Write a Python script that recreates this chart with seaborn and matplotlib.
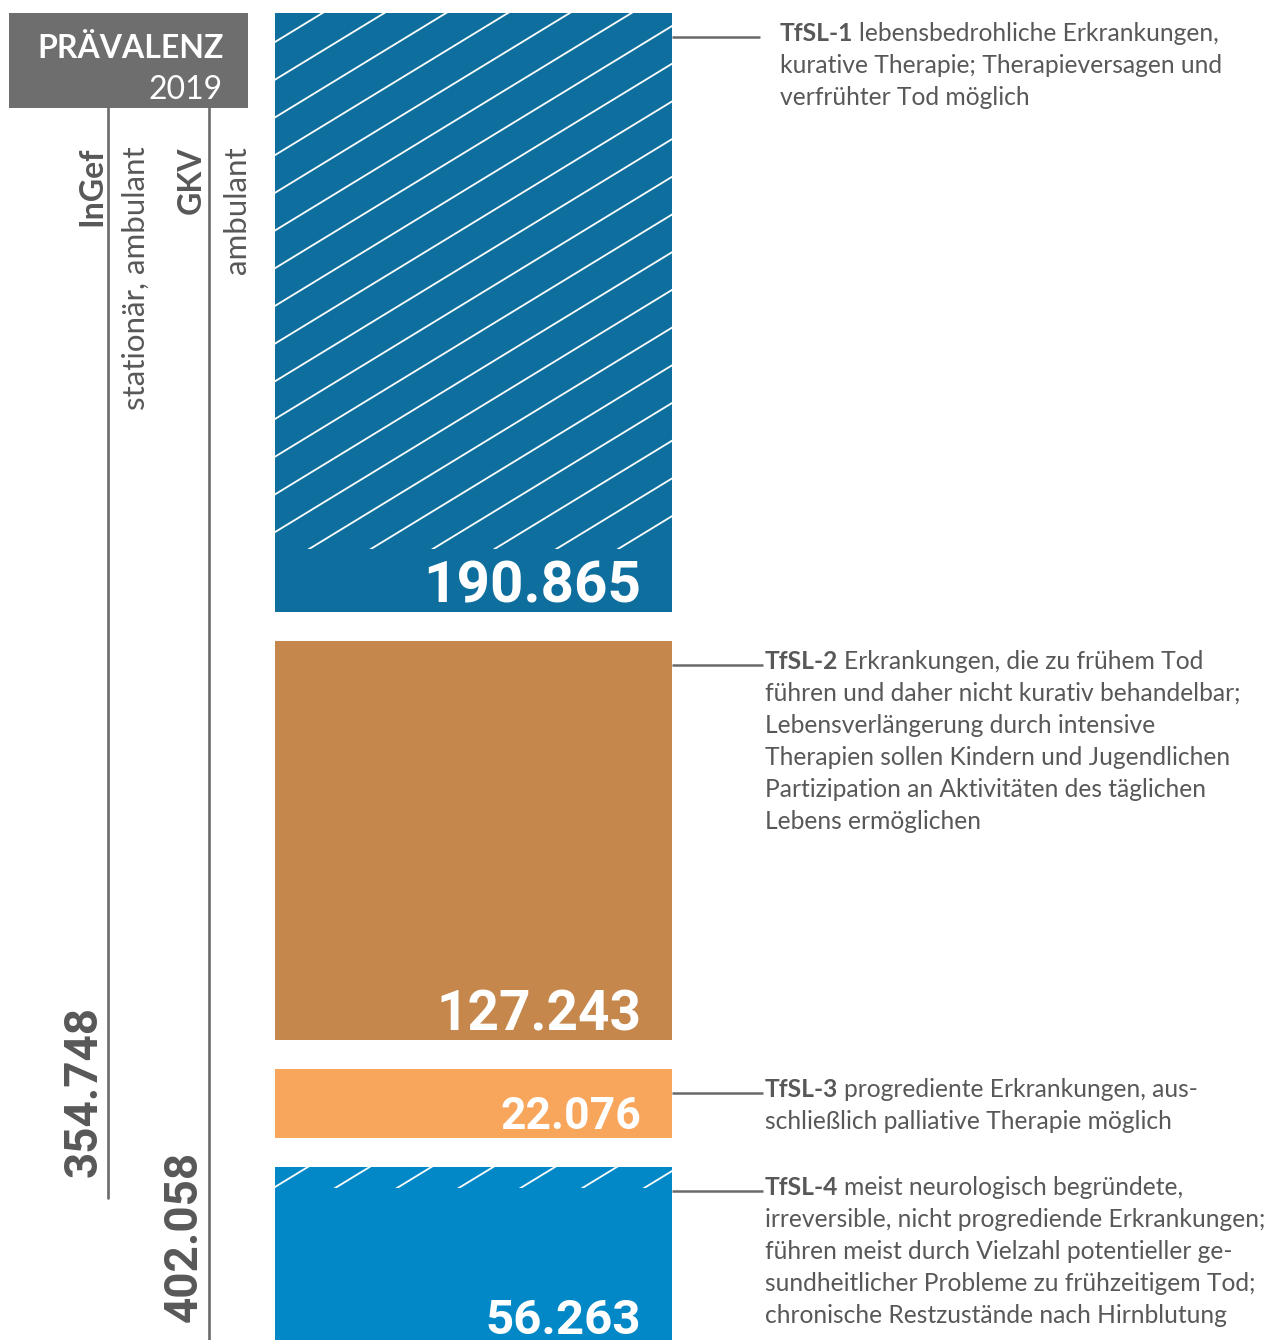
import matplotlib
matplotlib.use("Agg")
import matplotlib.pyplot as plt
import matplotlib.transforms as mtransforms
from matplotlib.patches import Rectangle
from matplotlib.lines import Line2D
import seaborn as sns

# ---------------- data ----------------
codes = ["TfSL-1", "TfSL-2", "TfSL-3", "TfSL-4"]
values = [190865, 127243, 22076, 56263]
value_labels = ["190.865", "127.243", "22.076", "56.263"]
bar_colors = ["#0E6F9E", "#C5874B", "#F9A65D", "#0288C6"]
hatch_extent = [170900, 0, 0, 6700]   # hatched part at the top of each bar
descriptions = [
    ["lebensbedrohliche Erkrankungen,",
     "kurative Therapie; Therapieversagen und",
     "verfrühter Tod möglich"],
    ["Erkrankungen, die zu frühem Tod",
     "führen und daher nicht kurativ behandelbar;",
     "Lebensverlängerung durch intensive",
     "Therapien sollen Kindern und Jugendlichen",
     "Partizipation an Aktivitäten des täglichen",
     "Lebens ermöglichen"],
    ["progrediente Erkrankungen, aus-",
     "schließlich palliative Therapie möglich"],
    ["meist neurologisch begründete,",
     "irreversible, nicht progrediende Erkrankungen;",
     "führen meist durch Vielzahl potentieller ge-",
     "sundheitlicher Probleme zu frühzeitigem Tod;",
     "chronische Restzustände nach Hirnblutung"],
]
header_title = "PRÄVALENZ"
header_year = "2019"
sources = ["InGef", "GKV"]
source_sub = ["stationär, ambulant", "ambulant"]
totals = ["354.748", "402.058"]

# ---------------- layout ----------------
DPI = 100
W, H = 1270, 1340
GAP = 9250
label_sizes = [42, 39.5, 32, 35.5]
hatch_phase = [42.0, 0, 0, 1187.0]    # pixel row where a hatch line meets the bar's left edge
TEXT_GRAY = "#585858"
LINE_GRAY = "#6A6A6A"
DESC_SIZE = 17.7

sns.set_theme(style="white")
plt.rcParams["font.family"] = ["Lato", "DejaVu Sans"]

fig = plt.figure(figsize=(W / DPI, H / DPI), dpi=DPI)
fig.patch.set_facecolor("white")
ax = fig.add_axes([275 / W, 0, (672 - 275) / W, 1327 / H])

starts = []
s = 0
for v in values:
    starts.append(s)
    s += v + GAP

for i, (v, b, c) in enumerate(zip(values, starts, bar_colors)):
    sns.barplot(x=[0], y=[v], bottom=b, color=c, width=1, linewidth=0,
                errorbar=None, ax=ax, saturation=1)

ax.set_xlim(-0.5, 0.5)
ax.set_ylim(423100, 0)
ax.axis("off")

# pixel transform (top-left origin)
px = mtransforms.Affine2D().scale(1 / DPI, -1 / DPI).translate(0, H / DPI) + fig.dpi_scale_trans
xpx_ydata = mtransforms.blended_transform_factory(px, ax.transData)


def down(dy):
    return mtransforms.ScaledTranslation(0, -dy / DPI, fig.dpi_scale_trans)


# hatching (white diagonal lines clipped to the hatched part of the bar)
slope, pitch = 0.61, 37.7
for b, ext, y0 in zip(starts, hatch_extent, hatch_phase):
    if ext <= 0:
        continue
    clip = Rectangle((-0.5, b), 1, ext, transform=ax.transData)
    for k in range(-40, 45):
        xa, xb = 260, 690
        ya = y0 + k * pitch - slope * (xa - 275)
        yb = y0 + k * pitch - slope * (xb - 275)
        ln = Line2D([xa, xb], [ya, yb], transform=px, color="white", lw=1.3,
                    solid_capstyle="butt")
        ax.add_line(ln)
        ln.set_clip_path(clip.get_path(), clip.get_transform())

# value labels
for v, b, lab, fs in zip(values, starts, value_labels, label_sizes):
    ax.annotate(lab, xy=(0.5, b + v), xycoords="data", xytext=(-31, 9),
                textcoords="offset pixels", ha="right", va="baseline",
                color="white", fontsize=fs, fontweight="bold", family="Roboto",
                annotation_clip=False)

# descriptions with connector lines
renderer = fig.canvas.get_renderer()
for i, (code, b, lines) in enumerate(zip(codes, starts, descriptions)):
    tx = 780 if i == 0 else 765
    lx = 760 if i == 0 else 763
    ax.plot([672, lx], [b, b], transform=xpx_ydata + down(24), color=LINE_GRAY,
            lw=1.8, clip_on=False, solid_capstyle="butt")
    t = ax.text(tx, b, code, transform=xpx_ydata + down(28), ha="left", va="baseline",
                fontsize=DESC_SIZE, fontweight="bold", color=TEXT_GRAY, family="Lato")
    wpx = t.get_window_extent(renderer).width
    ax.text(tx + wpx + 6, b, lines[0], transform=xpx_ydata + down(28), ha="left",
            va="baseline", fontsize=DESC_SIZE, color=TEXT_GRAY, family="Lato")
    for j, line in enumerate(lines[1:], start=1):
        ax.text(tx, b, line, transform=xpx_ydata + down(28 + 32 * j), ha="left",
                va="baseline", fontsize=DESC_SIZE, color=TEXT_GRAY, family="Lato")

# header box
fig.add_artist(Rectangle((9, 13), 239, 95, transform=px, facecolor="#6E6E6E",
                         edgecolor="none"))
fig.text(224, 58, header_title, transform=px, ha="right", va="baseline",
         fontsize=23, fontweight="bold", color="white", family="Lato")
fig.text(223, 99, header_year, transform=px, ha="right", va="baseline",
         fontsize=23, color="white", family="Lato")

# vertical source lines
fig.add_artist(Line2D([108, 108], [108, 1198], transform=px, color=LINE_GRAY, lw=1.9))
fig.add_artist(Line2D([209, 209], [108, 1340], transform=px, color=LINE_GRAY, lw=1.9))

# rotated source labels
src_x = [101, 201]
sub_x = [145, 246]
tot_anchor = [(97, 1177), (197, 1322)]
for name, sub, tot, sx, bx, (tx0, ty0) in zip(sources, source_sub, totals, src_x, sub_x, tot_anchor):
    fig.text(sx, 147, name, transform=px, rotation=90, rotation_mode="anchor",
             ha="right", va="baseline", fontsize=23, fontweight="bold",
             color=TEXT_GRAY, family="Lato")
    fig.text(bx, 146, sub, transform=px, rotation=90, rotation_mode="anchor",
             ha="right", va="baseline", fontsize=22.5,
             color=TEXT_GRAY, family="Lato")
    fig.text(tx0, ty0, tot, transform=px, rotation=90, rotation_mode="anchor",
             ha="left", va="baseline", fontsize=33, fontweight="bold",
             color=TEXT_GRAY, family="Roboto")

fig.savefig("out.png", dpi=DPI, facecolor="white")
